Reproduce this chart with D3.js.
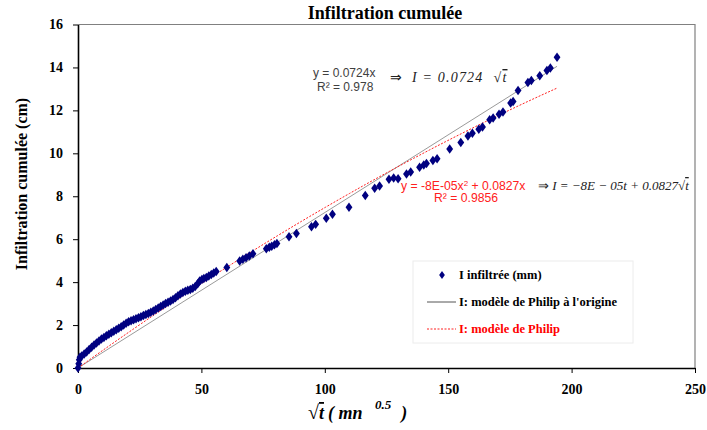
<!DOCTYPE html>
<html>
<head>
<meta charset="utf-8">
<script src="https://cdn.jsdelivr.net/npm/d3@7"></script>
<style>
  body { margin: 0; background: #fff; }
</style>
</head>
<body>
<div id="chart"></div>
<script>
// measured points: sqrt(t) (mn^0.5) and cumulative infiltration (cm)
const sqrtT = [0, 0.3, 0.5, 0.8, 1.5, 2.5, 3.5, 4.5, 5.5, 6.5, 7.5, 8.5, 9.5, 10.5, 11.5, 12.5, 13.5, 14.5, 15.5, 16.5,
  17.5, 18.5, 19.5, 20.5, 21.5, 22.5, 23.5, 24.5, 25.5, 26.5, 27.5, 28.5, 29.5, 30.5, 31.5, 32.5, 33.5, 34.5, 35.5, 36.5,
  37.5, 38.5, 39.5, 40.5, 41.5, 42.5, 43.5, 44.5, 45.5, 46.5, 47.5, 48.5, 49.3, 50.2, 51, 52, 53, 54, 55, 56,
  60.3, 65.5, 66.8, 68.1, 69.4, 70.9, 76.3, 77.5, 78.5, 79.6, 80.6, 85.5, 88.5, 94.6, 96.3, 100.6, 103.1, 109.8,
  116.4, 120.2, 122.2, 126.0, 127.9, 129.7, 133.1, 134.8, 138.4, 140.1, 141.2, 143.8, 145.5, 150.6, 155.1,
  158.0, 159.8, 162.4, 163.9, 166.8, 168.2, 170.6, 172.2, 175.3, 176.3, 178.3, 182.3, 183.7, 187.1, 190.0, 191.4, 194.1];
const infil = [0, 0.2, 0.38, 0.5, 0.56, 0.65, 0.75, 0.86, 0.97, 1.07, 1.17, 1.26, 1.35, 1.42, 1.5, 1.57, 1.64, 1.71, 1.78, 1.85,
  1.92, 2.0, 2.08, 2.15, 2.2, 2.25, 2.29, 2.34, 2.39, 2.44, 2.49, 2.54, 2.6, 2.66, 2.73, 2.8, 2.87, 2.94, 3.0, 3.06,
  3.12, 3.19, 3.27, 3.36, 3.45, 3.52, 3.58, 3.62, 3.66, 3.72, 3.8, 3.92, 4.05, 4.12, 4.17, 4.22, 4.28, 4.35, 4.42, 4.5,
  4.68, 4.98, 5.06, 5.14, 5.22, 5.32, 5.55, 5.62, 5.67, 5.74, 5.8, 6.11, 6.27, 6.58, 6.69, 6.97, 7.16, 7.49,
  8.03, 8.37, 8.48, 8.79, 8.85, 8.82, 9.04, 9.13, 9.35, 9.46, 9.52, 9.66, 9.75, 10.2, 10.5,
  10.81, 10.94, 11.12, 11.23, 11.56, 11.64, 11.82, 11.92, 12.34, 12.41, 12.93, 13.3, 13.39, 13.61, 13.86, 13.97, 14.47];

// fitted models
const fitX = [0, 194.1];           // range of the fitted lines
const philipOrigin = [0.0724];     // y = a x
const philip = [-8e-5, 0.0827];    // y = b x^2 + c x

const xTicks = [0, 50, 100, 150, 200, 250];
const yTicks = [0, 2, 4, 6, 8, 10, 12, 14, 16];

const SERIF = "Liberation Serif, Times New Roman, serif";
const SANS = "Liberation Sans, Arial, sans-serif";

const W = 707, H = 430;
const margin = {left: 78, right: 12, top: 24.5, bottom: 62};
const width = W - margin.left - margin.right;
const height = H - margin.top - margin.bottom;

const svg = d3.select("#chart").append("svg")
    .attr("width", W)
    .attr("height", H)
    .style("font-family", SERIF);

const g = svg.append("g")
    .attr("transform", `translate(${margin.left},${margin.top})`);

const xScale = d3.scaleLinear().domain([0, 250]).range([0, width]);
const yScale = d3.scaleLinear().domain([0, 16]).range([height, 0]);

// plot frame (top / right)
g.append("path")
    .attr("d", `M0,0H${width}V${height}`)
    .attr("fill", "none")
    .attr("stroke", "#808080")
    .attr("stroke-width", 1.2);

// axes
const xAxis = g.append("g")
    .attr("transform", `translate(0,${height})`)
    .call(d3.axisBottom(xScale).tickValues(xTicks).tickSize(5).tickSizeOuter(0));
const yAxis = g.append("g")
    .call(d3.axisLeft(yScale).tickValues(yTicks).tickSize(5).tickSizeOuter(0));

[xAxis, yAxis].forEach(a => {
    a.attr("font-family", null).attr("font-size", null);
    a.select(".domain").attr("stroke", "#000").attr("stroke-width", 1.6);
    a.selectAll(".tick line").attr("stroke", "#000");
    a.selectAll(".tick text")
        .style("font-family", SERIF)
        .attr("font-weight", "bold")
        .attr("font-size", 14)
        .attr("fill", "#000");
});
xAxis.selectAll(".tick text").attr("dy", "1.3em");
yAxis.selectAll(".tick text").attr("dx", "-0.5em");

// fitted lines
const lineData = d3.range(0, 61).map(i => fitX[0] + (fitX[1] - fitX[0]) * i / 60);
const line = d3.line().x(d => xScale(d[0])).y(d => yScale(d[1]));

g.append("path")
    .datum(fitX.map(x => [x, philipOrigin[0] * x]))
    .attr("fill", "none")
    .attr("stroke", "#9a9a9a")
    .attr("stroke-width", 1)
    .attr("d", line);

g.append("path")
    .datum(lineData.map(x => [x, philip[0] * x * x + philip[1] * x]))
    .attr("fill", "none")
    .attr("stroke", "#ff2020")
    .attr("stroke-width", 1)
    .attr("stroke-dasharray", "2,1.5")
    .attr("d", line);

// data points
const diamond = d3.symbol().type(d3.symbolDiamond).size(26);
g.selectAll(".pt")
    .data(sqrtT.map((x, i) => [x, infil[i]]))
    .join("path")
    .attr("class", "pt")
    .attr("d", diamond)
    .attr("transform", d => `translate(${xScale(d[0])},${yScale(d[1])}) scale(1.25,1)`)
    .attr("fill", "#000080");

// title and axis labels
svg.append("text")
    .attr("x", 385).attr("y", 19)
    .attr("text-anchor", "middle")
    .attr("font-weight", "bold")
    .attr("font-size", 18)
    .text("Infiltration cumulée");

svg.append("text")
    .attr("transform", "translate(27,184) rotate(-90)")
    .attr("text-anchor", "middle")
    .attr("font-weight", "bold")
    .attr("font-size", 16)
    .text("Infiltration cumulée (cm)");

const xl = svg.append("text")
    .attr("x", 308).attr("y", 419)
    .attr("font-weight", "bold")
    .attr("font-style", "italic")
    .attr("font-size", 18);
xl.append("tspan").attr("font-style", "normal").attr("font-size", 20).text("√");
xl.append("tspan").attr("text-decoration", "overline").text("t");
xl.append("tspan").attr("dx", 4).text("( mn ");
xl.append("tspan").attr("dx", 8).attr("dy", -10).attr("font-size", 13).text("0.5");
xl.append("tspan").attr("dx", 10).attr("dy", 10).text(")");

// equation annotations
svg.append("text").attr("x", 313).attr("y", 77)
    .style("font-family", SANS).attr("font-size", 12).attr("fill", "#404040")
    .text("y = 0.0724x");
svg.append("text").attr("x", 317).attr("y", 91)
    .style("font-family", SANS).attr("font-size", 12).attr("fill", "#404040")
    .text("R² = 0.978");

const eq1b = svg.append("text").attr("x", 390).attr("y", 82)
    .attr("font-size", 14).attr("fill", "#222").attr("letter-spacing", 1.2);
eq1b.append("tspan").text("⇒ ");
eq1b.append("tspan").attr("font-style", "italic").attr("dx", 4).text("I = 0.0724");
eq1b.append("tspan").attr("dx", 10).text("√");
eq1b.append("tspan").attr("font-style", "italic").attr("text-decoration", "overline").text("t");

const eq2 = svg.append("text").attr("x", 401).attr("y", 190)
    .style("font-family", SANS).attr("font-size", 12.2).attr("fill", "#ff2020");
eq2.append("tspan").text("y = -8E-05x");
eq2.append("tspan").attr("dy", -4).attr("font-size", 8).text("2");
eq2.append("tspan").attr("dy", 4).text(" + 0.0827x");
svg.append("text").attr("x", 434).attr("y", 202)
    .style("font-family", SANS).attr("font-size", 12.2).attr("fill", "#ff2020")
    .text("R² = 0.9856");

const eq2b = svg.append("text").attr("x", 538).attr("y", 190)
    .attr("font-size", 13).attr("fill", "#222");
eq2b.append("tspan").text("⇒ ");
eq2b.append("tspan").attr("font-style", "italic").text("I = −8E − 05t + 0.0827");
eq2b.append("tspan").text("√");
eq2b.append("tspan").attr("font-style", "italic").attr("text-decoration", "overline").text("t");

// legend
const leg = svg.append("g");
leg.append("rect")
    .attr("x", 413).attr("y", 261).attr("width", 220).attr("height", 82)
    .attr("fill", "#fff").attr("stroke", "#ececec");
leg.append("path")
    .attr("d", d3.symbol().type(d3.symbolDiamond).size(18))
    .attr("transform", "translate(442,275) scale(1.25,1)")
    .attr("fill", "#000080");
leg.append("line").attr("x1", 427).attr("x2", 456).attr("y1", 302).attr("y2", 302)
    .attr("stroke", "#555").attr("stroke-width", 1);
leg.append("line").attr("x1", 427).attr("x2", 456).attr("y1", 329).attr("y2", 329)
    .attr("stroke", "#ff2020").attr("stroke-width", 1).attr("stroke-dasharray", "2,1.5");
const legText = [["I infiltrée (mm)", "#000", 279], ["I: modèle de Philip à l'origine", "#000", 306], ["I: modèle de Philip", "#ff0000", 333]];
legText.forEach(d => {
    leg.append("text").attr("x", 459).attr("y", d[2])
        .attr("font-weight", "bold").attr("font-size", 12.5).attr("fill", d[1])
        .text(d[0]);
});
</script>
</body>
</html>
